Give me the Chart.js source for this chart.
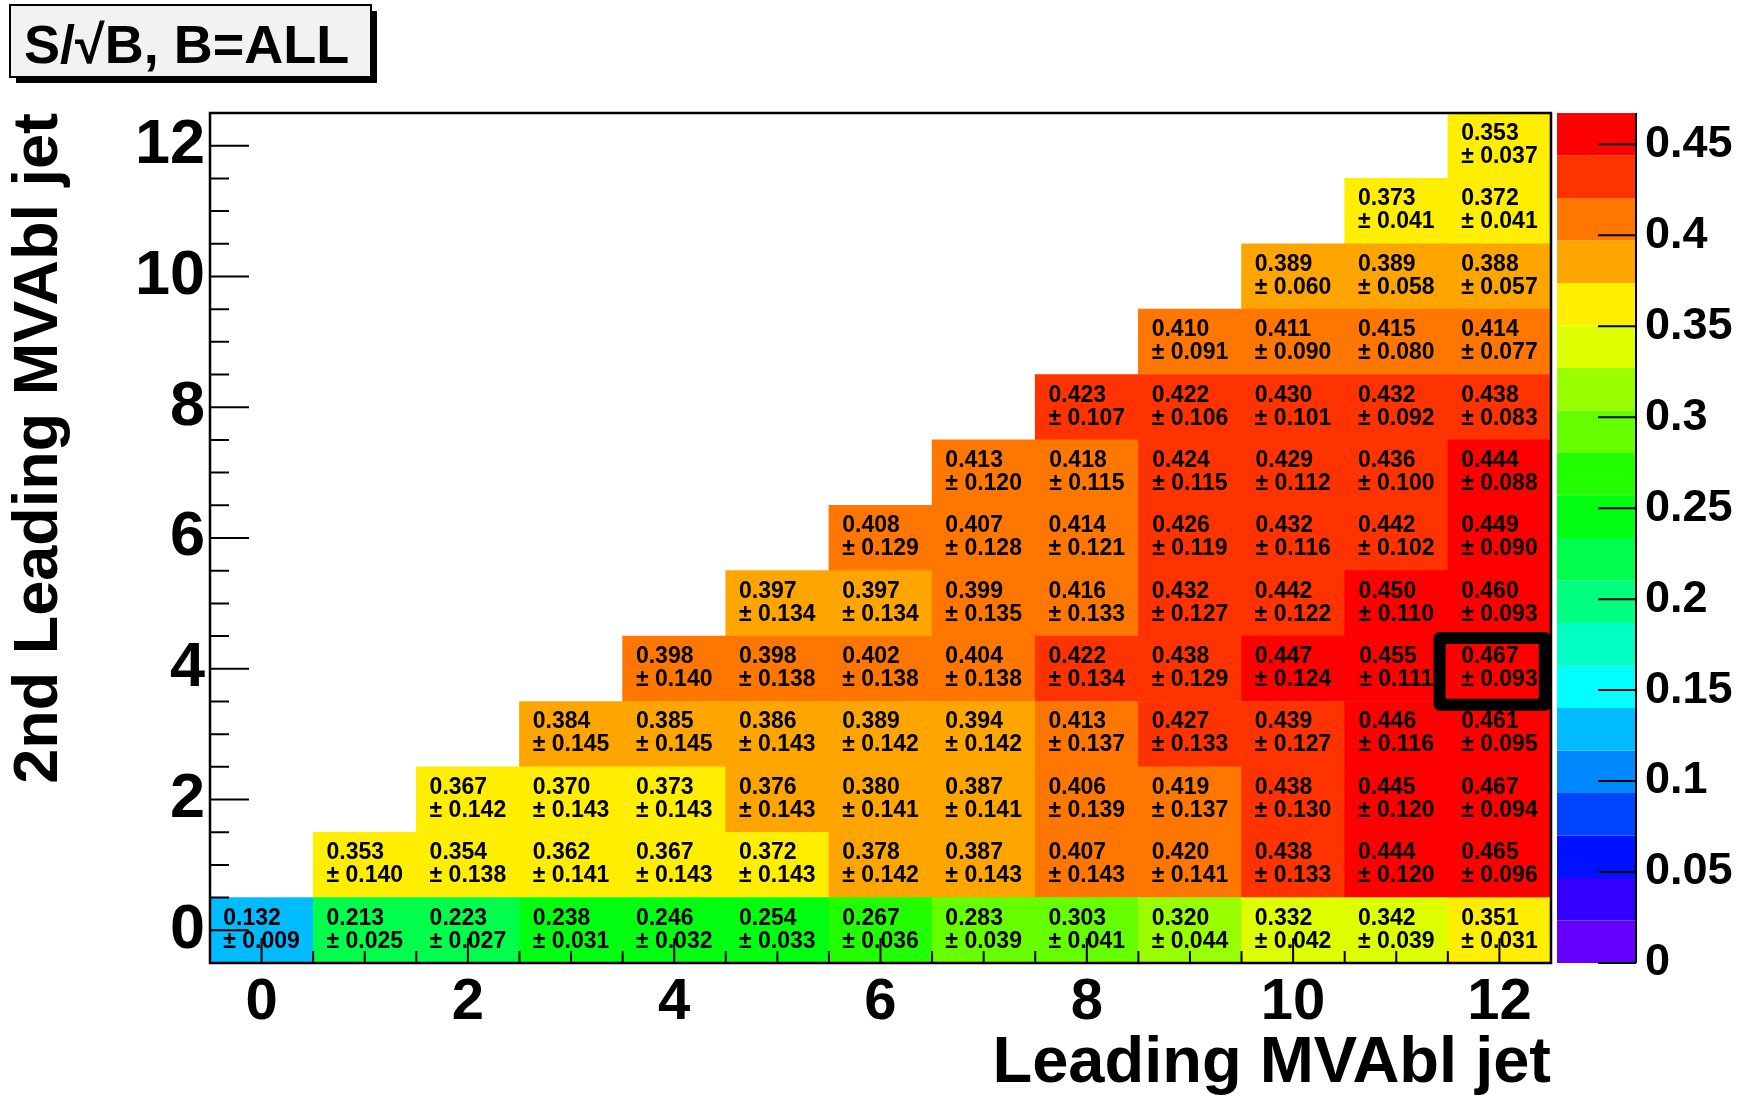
<!DOCTYPE html>
<html>
<head>
<meta charset="utf-8">
<script src="https://cdn.jsdelivr.net/npm/chart.js@4.4.1/dist/chart.umd.min.js"></script>
<style>
  html, body { margin: 0; padding: 0; background: #fff; }
  canvas { display: block; }
</style>
</head>
<body>
<canvas id="chart" width="1739" height="1097"></canvas>
<script>
// axis ticks
const xTicks = [0, 2, 4, 6, 8, 10, 12];
const yTicks = [0, 2, 4, 6, 8, 10, 12];
const zTicks = [0, 0.05, 0.1, 0.15, 0.2, 0.25, 0.3, 0.35, 0.4, 0.45];
const zMax = 0.4672;

// S/sqrt(B) per row of the 2nd leading jet bin; row r starts at leading bin x = r
const sOverSqrtB = [
  [0.132, 0.213, 0.223, 0.238, 0.246, 0.254, 0.267, 0.283, 0.303, 0.320, 0.332, 0.342, 0.351],
  [0.353, 0.354, 0.362, 0.367, 0.372, 0.378, 0.387, 0.407, 0.420, 0.438, 0.444, 0.465],
  [0.367, 0.370, 0.373, 0.376, 0.380, 0.387, 0.406, 0.419, 0.438, 0.445, 0.467],
  [0.384, 0.385, 0.386, 0.389, 0.394, 0.413, 0.427, 0.439, 0.446, 0.461],
  [0.398, 0.398, 0.402, 0.404, 0.422, 0.438, 0.447, 0.455, 0.467],
  [0.397, 0.397, 0.399, 0.416, 0.432, 0.442, 0.450, 0.460],
  [0.408, 0.407, 0.414, 0.426, 0.432, 0.442, 0.449],
  [0.413, 0.418, 0.424, 0.429, 0.436, 0.444],
  [0.423, 0.422, 0.430, 0.432, 0.438],
  [0.410, 0.411, 0.415, 0.414],
  [0.389, 0.389, 0.388],
  [0.373, 0.372],
  [0.353]
];
const sOverSqrtBErr = [
  [0.009, 0.025, 0.027, 0.031, 0.032, 0.033, 0.036, 0.039, 0.041, 0.044, 0.042, 0.039, 0.031],
  [0.140, 0.138, 0.141, 0.143, 0.143, 0.142, 0.143, 0.143, 0.141, 0.133, 0.120, 0.096],
  [0.142, 0.143, 0.143, 0.143, 0.141, 0.141, 0.139, 0.137, 0.130, 0.120, 0.094],
  [0.145, 0.145, 0.143, 0.142, 0.142, 0.137, 0.133, 0.127, 0.116, 0.095],
  [0.140, 0.138, 0.138, 0.138, 0.134, 0.129, 0.124, 0.111, 0.093],
  [0.134, 0.134, 0.135, 0.133, 0.127, 0.122, 0.110, 0.093],
  [0.129, 0.128, 0.121, 0.119, 0.116, 0.102, 0.090],
  [0.120, 0.115, 0.115, 0.112, 0.100, 0.088],
  [0.107, 0.106, 0.101, 0.092, 0.083],
  [0.091, 0.090, 0.080, 0.077],
  [0.060, 0.058, 0.057],
  [0.041, 0.041],
  [0.037]
];
const bestCell = [12, 4];

const palette = ['#6600ff', '#3300ff', '#0011ff', '#0044ff', '#0088ff', '#00bbff', '#00ffff',
  '#00ffc3', '#00ff80', '#00ff4d', '#00ff11', '#22ff00', '#66ff00', '#99ff00', '#ddff00',
  '#ffee00', '#ffa500', '#ff7700', '#ff3300', '#ff0000'];

const FONT = '"Liberation Sans", Arial, Helvetica, sans-serif';

function colorFor(v) {
  const i = Math.min(palette.length - 1, Math.floor(v / zMax * palette.length));
  return palette[i];
}

const datasets = sOverSqrtB.map((row, r) => {
  const start = 13 - row.length;
  return {
    label: 'row ' + r,
    data: row.map((v, i) => ({ x: start + i, y: [r - 0.5, r + 0.5] })),
    backgroundColor: row.map(colorFor),
    borderWidth: 0,
    grouped: false,
    barPercentage: 1,
    categoryPercentage: 1
  };
});

const histPlugin = {
  id: 'hist',
  afterDatasetsDraw(chart) {
    const { ctx, chartArea: a, scales: { x, y, z } } = chart;
    ctx.save();

    // cell labels
    ctx.fillStyle = '#000';
    ctx.font = 'bold 23px ' + FONT;
    ctx.textBaseline = 'middle';
    ctx.textAlign = 'left';
    sOverSqrtB.forEach((row, r) => {
      const start = 13 - row.length;
      row.forEach((v, i) => {
        const cx = x.getPixelForValue(start + i);
        const cy = y.getPixelForValue(r);
        const l1 = v.toFixed(3);
        const l2 = '\u00b1 ' + sOverSqrtBErr[r][i].toFixed(3);
        const w = Math.max(ctx.measureText(l1).width, ctx.measureText(l2).width);
        ctx.fillText(l1, cx - w / 2, cy - 12);
        ctx.fillText(l2, cx - w / 2, cy + 11);
      });
    });

    // ticks inside the frame
    ctx.strokeStyle = '#000';
    ctx.lineWidth = 2;
    ctx.beginPath();
    for (let v = 0; v <= 12.01; v += 0.5) {
      const px = x.getPixelForValue(v);
      const len = v % 2 === 0 ? 25 : 12;
      ctx.moveTo(px, a.bottom);
      ctx.lineTo(px, a.bottom - len);
      const py = y.getPixelForValue(v);
      const ylen = v % 2 === 0 ? 39 : 19;
      ctx.moveTo(a.left, py);
      ctx.lineTo(a.left + ylen, py);
    }
    ctx.stroke();

    // best cell box
    const [bx, by] = bestCell;
    ctx.lineWidth = 12;
    ctx.lineJoin = 'round';
    const x0 = x.getPixelForValue(bx - 0.58), x1 = x.getPixelForValue(bx + 0.44);
    const y0 = y.getPixelForValue(by + 0.47), y1 = y.getPixelForValue(by - 0.55);
    ctx.strokeRect(x0, y0, x1 - x0, y1 - y0);

    // frame
    ctx.lineWidth = 2.5;
    ctx.lineJoin = 'miter';
    ctx.strokeRect(a.left, a.top, a.right - a.left, a.bottom - a.top);

    // palette
    const pl = a.right + 6, pr = a.right + 85;
    palette.forEach((c, i) => {
      const yb = z.getPixelForValue(i * zMax / palette.length);
      const yt = z.getPixelForValue((i + 1) * zMax / palette.length);
      ctx.fillStyle = c;
      ctx.fillRect(pl, yt, pr - pl, yb - yt);
    });
    ctx.lineWidth = 2;
    ctx.beginPath();
    ctx.moveTo(pr, z.getPixelForValue(zMax));
    ctx.lineTo(pr, z.getPixelForValue(0));
    zTicks.forEach(t => {
      const py = z.getPixelForValue(t);
      ctx.moveTo(pr - 38, py);
      ctx.lineTo(pr, py);
    });
    ctx.stroke();

    // title box
    ctx.fillStyle = '#000';
    ctx.fillRect(16, 11, 361, 72);
    ctx.fillStyle = '#f2f2f2';
    ctx.fillRect(10, 5, 361, 72);
    ctx.lineWidth = 2;
    ctx.strokeStyle = '#000';
    ctx.strokeRect(10, 5, 361, 72);
    ctx.fillStyle = '#000';
    ctx.font = 'bold 54px ' + FONT;
    ctx.textBaseline = 'alphabetic';
    ctx.fillText('S/\u221aB, B=ALL', 24, 63);

    ctx.restore();
  }
};

new Chart(document.getElementById('chart').getContext('2d'), {
  type: 'bar',
  data: { datasets },
  options: {
    responsive: false,
    animation: false,
    layout: { padding: { top: 113, left: 0, right: 0, bottom: 0 } },
    plugins: { legend: { display: false }, tooltip: { enabled: false } },
    scales: {
      x: {
        type: 'linear', min: -0.5, max: 12.5, offset: false,
        grid: { display: false, offset: false, drawTicks: false }, border: { display: false },
        afterBuildTicks: s => { s.ticks = xTicks.map(v => ({ value: v })); },
        afterFit: s => { s.height = 134; },
        ticks: { font: { family: FONT, weight: 'bold', size: 58 }, color: '#000', padding: 5,
          maxRotation: 0, autoSkip: false },
        title: { display: true, text: 'Leading MVAbl jet', align: 'end', color: '#000',
          font: { family: FONT, weight: 'bold', size: 65, lineHeight: 1 }, padding: 0 }
      },
      y: {
        type: 'linear', min: -0.5, max: 12.5,
        grid: { display: false, drawTicks: false }, border: { display: false },
        afterBuildTicks: s => { s.ticks = yTicks.map(v => ({ value: v })); },
        afterFit: s => { s.width = 210; },
        ticks: { font: { family: FONT, weight: 'bold', size: 63 }, color: '#000', padding: 5, autoSkip: false },
        title: { display: true, text: '2nd Leading MVAbl jet', align: 'end', color: '#000',
          font: { family: FONT, weight: 'bold', size: 63, lineHeight: 1 }, padding: { top: 8, bottom: 0 } }
      },
      z: {
        type: 'linear', position: 'right', min: 0, max: zMax,
        grid: { display: false, drawTicks: false }, border: { display: false },
        afterBuildTicks: s => { s.ticks = zTicks.map(v => ({ value: v })); },
        afterFit: s => { s.width = 188; s.paddingTop = 0; s.paddingBottom = 0; },
        ticks: { font: { family: FONT, weight: 'bold', size: 45 }, color: '#000', padding: 94,
          autoSkip: false, callback: v => String(+v.toFixed(2)) }
      }
    }
  },
  plugins: [histPlugin]
});
</script>
</body>
</html>
